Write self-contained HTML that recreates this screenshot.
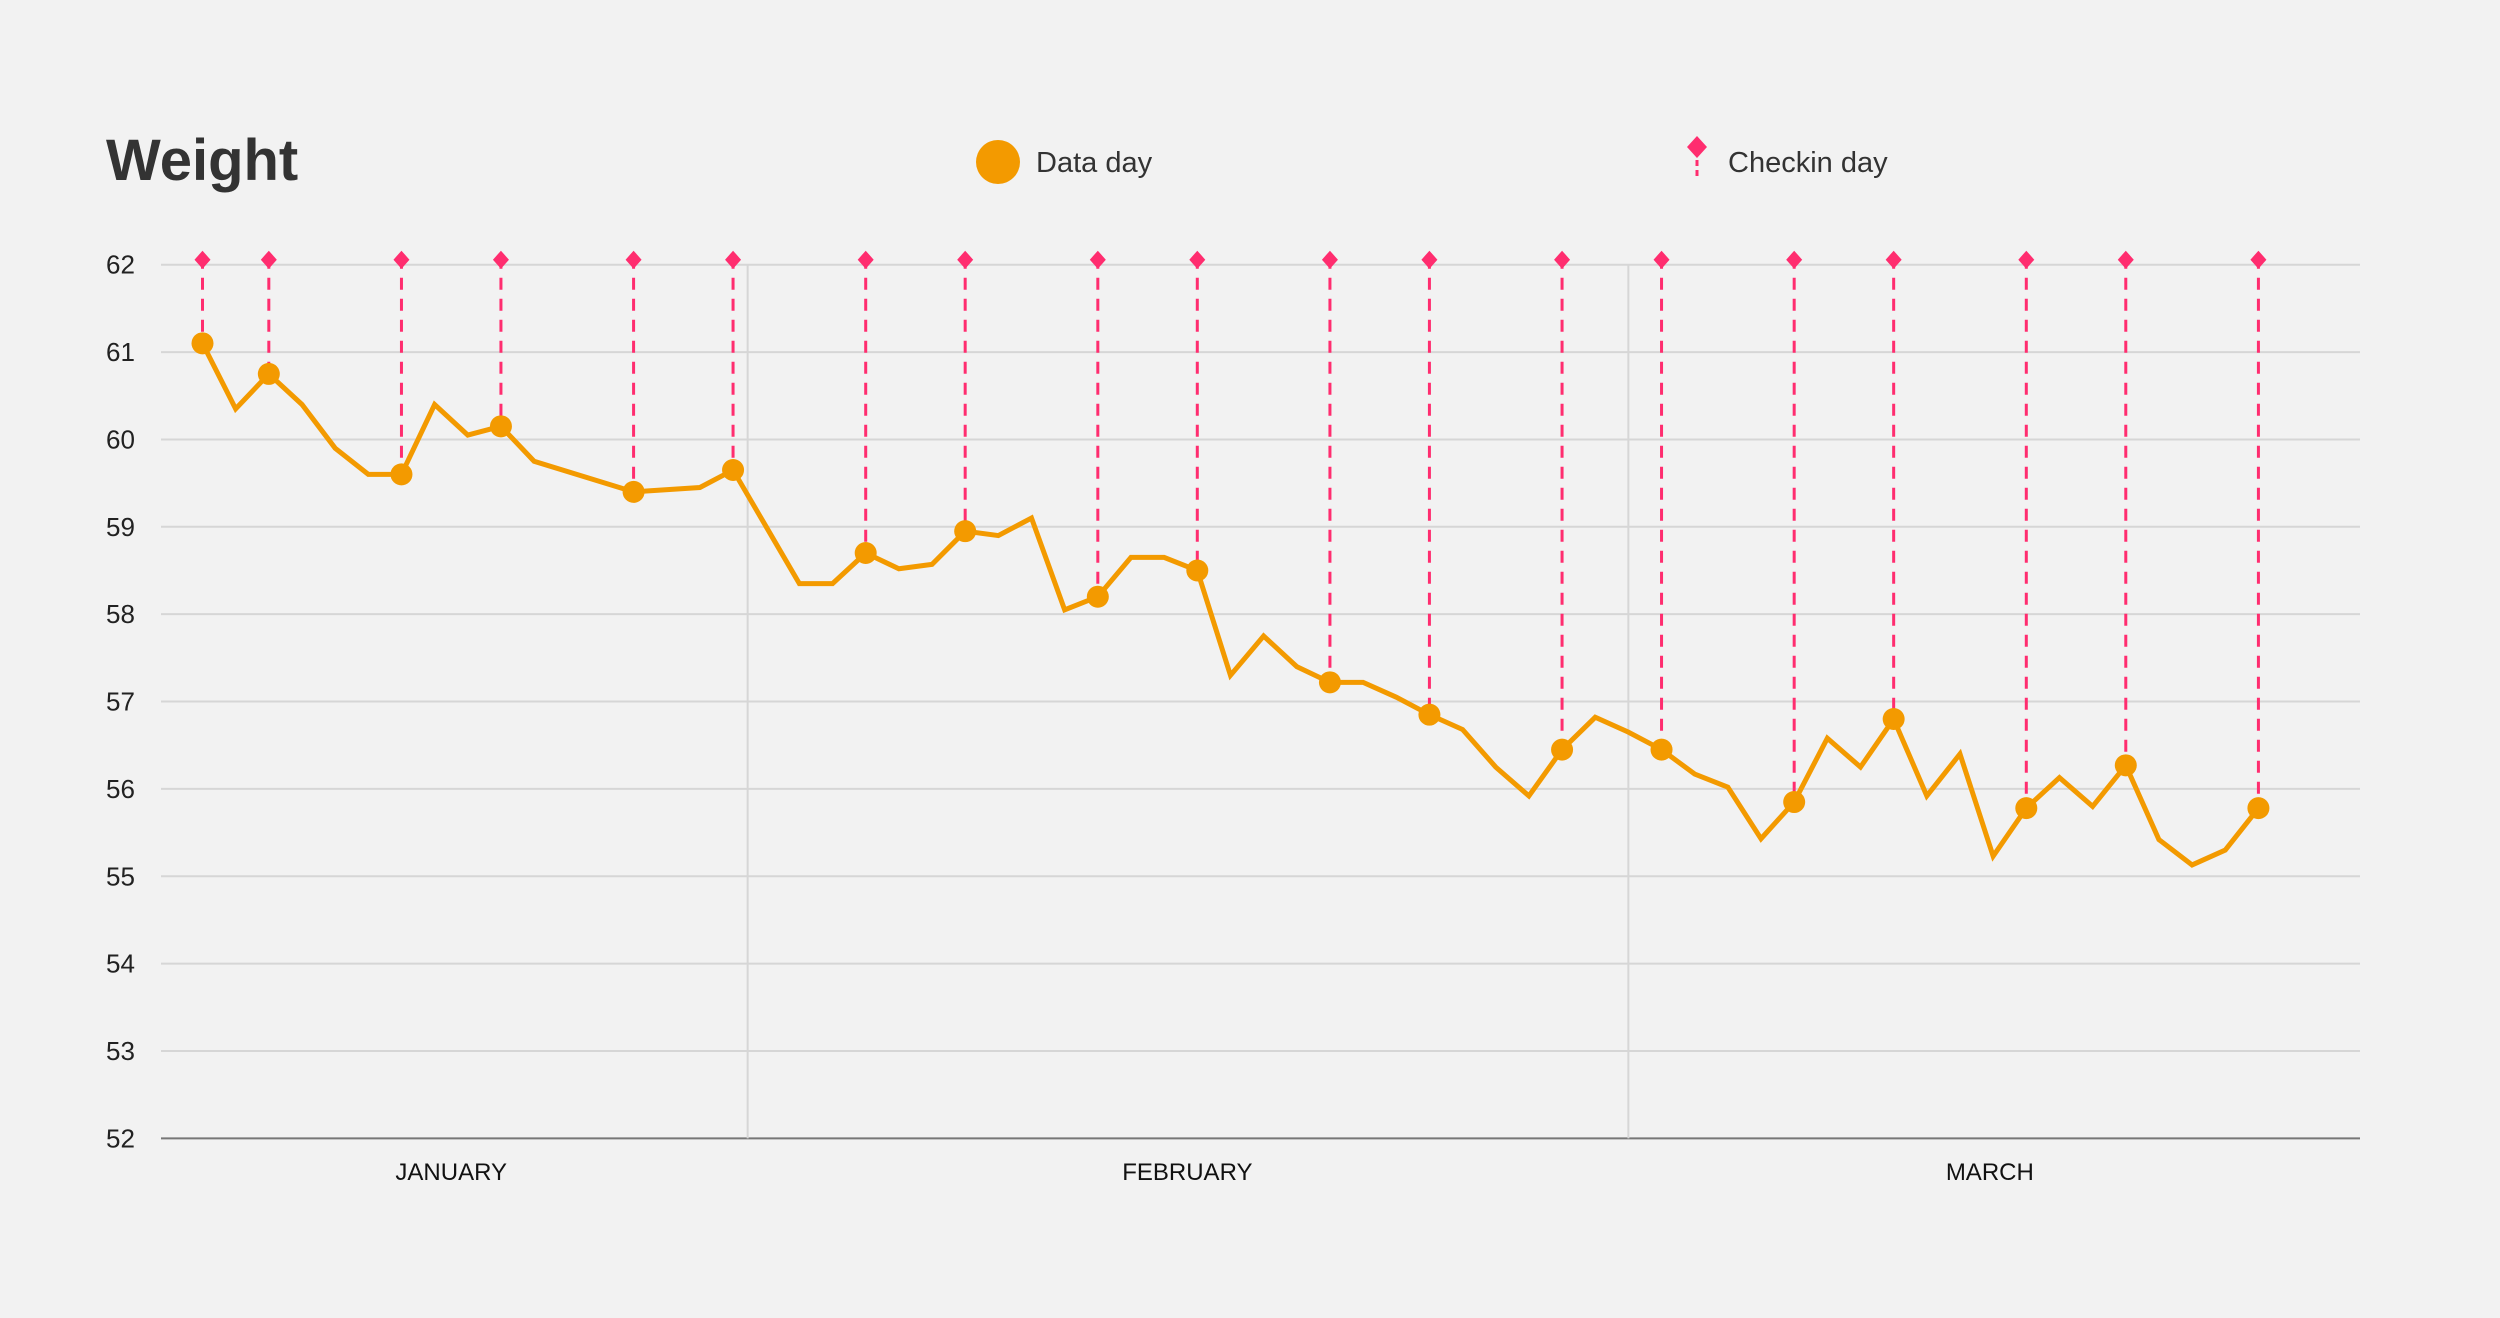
<!DOCTYPE html>
<html><head><meta charset="utf-8"><style>
html,body{margin:0;padding:0;background:#f2f2f2;}
svg{display:block;font-family:"Liberation Sans",sans-serif;}
</style></head><body>
<svg id="chart" width="2500" height="1318" viewBox="0 0 2500 1318" xmlns="http://www.w3.org/2000/svg">
<rect width="2500" height="1318" fill="#f2f2f2"/>
<text x="106" y="180" font-size="58" font-weight="bold" fill="#333">Weight</text>
<g>
<circle cx="998" cy="162" r="22" fill="#f39a00"/>
<text x="1036" y="172" font-size="29" fill="#333">Data day</text>
<path d="M1697 136 L1707 147 L1697 158 L1687 147 Z" fill="#ff2d6f"/>
<line x1="1697" y1="160" x2="1697" y2="178" stroke="#ff2d6f" stroke-width="3" stroke-dasharray="6 4"/>
<text x="1728" y="172" font-size="29" fill="#333">Checkin day</text>
</g>
<g id="grid"></g><g id="marks"></g>
</svg>
<script>
const yTicks = [52,53,54,55,56,57,58,59,60,61,62];
const months = ["JANUARY","FEBRUARY","MARCH"];
const monthCenters = [7.5, 29.7, 53.9];
const monthDividers = [16.44, 43.0];
const days = [0,1,2,3,4,5,6,7,8,9,10,13,15,16,17,18,19,20,21,22,23,24,25,26,27,28,29,30,31,32,33,34,35,36,37,38,39,40,41,42,43,44,45,46,47,48,49,50,51,52,53,54,55,56,57,58,59,60,61,62];
const weights = [61.1,60.35,60.75,60.4,59.9,59.6,59.6,60.4,60.05,60.15,59.75,59.4,59.45,59.65,59.0,58.35,58.35,58.7,58.52,58.57,58.95,58.9,59.1,58.05,58.2,58.65,58.65,58.5,57.3,57.75,57.4,57.22,57.22,57.05,56.85,56.68,56.25,55.92,56.45,56.82,56.65,56.45,56.17,56.02,55.43,55.85,56.58,56.25,56.8,55.92,56.4,55.23,55.78,56.13,55.8,56.27,55.42,55.13,55.3,55.78];
const checkinDays = [0,2,6,9,13,16,20,23,27,30,34,37,41,44,48,51,55,58,62];

const NS="http://www.w3.org/2000/svg";
const X0=161, X1=2360, Y62=264.7, Y52=1138.4;
function xs(d){return 202.5+33.16*d;}
function ys(v){return Y52-(v-52)*(Y52-Y62)/10;}
function mk(tag,attrs,parent){const e=document.createElementNS(NS,tag);for(const k in attrs)e.setAttribute(k,attrs[k]);parent.appendChild(e);return e;}
const grid=document.getElementById('grid'), marks=document.getElementById('marks');
yTicks.forEach(t=>{
  const l=mk('line',{x1:X0,x2:X1,y1:ys(t),y2:ys(t),stroke:t===52?'#777':'#d6d6d6','stroke-width':2},grid);
  
  
  const tx=mk('text',{x:106,y:ys(t)+9,'font-size':26,fill:'#222'},grid);
  tx.textContent=t;
  
  
});
monthDividers.forEach(d=>{
  const l=mk('line',{x1:xs(d),x2:xs(d),y1:ys(62),y2:ys(52),stroke:'#d6d6d6','stroke-width':2},grid);
  
  
});
months.forEach((m,i)=>{
  const t=mk('text',{x:xs(monthCenters[i]),y:1180,'font-size':24,fill:'#111','text-anchor':'middle'},grid);
  t.textContent=m;
  
  
});
checkinDays.forEach(d=>{
  const i=days.indexOf(d); const v=weights[i];
  const l=mk('line',{x1:xs(d),x2:xs(d),y1:ys(62)-8,y2:ys(v),stroke:'#ff2d6f','stroke-width':3,'stroke-dasharray':'12 9'},marks);
  
  
  const x=xs(d), y=ys(62)-5;
  const p=mk('path',{d:`M${x} ${y-9} L${x+8} ${y} L${x} ${y+9} L${x-8} ${y} Z`,fill:'#ff2d6f'},marks);
  
  
});
const pl=mk('polyline',{points:days.map((d,i)=>xs(d)+','+ys(weights[i])).join(' '),fill:'none',stroke:'#f39a00','stroke-width':5,'stroke-linejoin':'miter'},marks);


checkinDays.forEach(d=>{
  const i=days.indexOf(d);
  const c=mk('circle',{cx:xs(d),cy:ys(weights[i]),r:11,fill:'#f39a00'},marks);
  
  
});
</script>
</body></html>
